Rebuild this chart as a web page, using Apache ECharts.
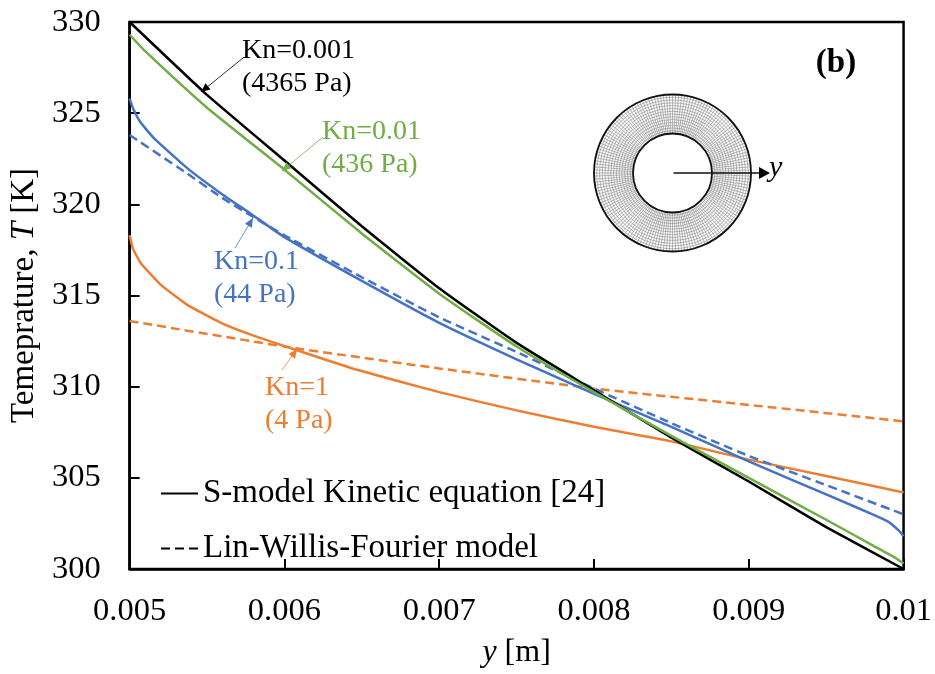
<!DOCTYPE html>
<html><head><meta charset="utf-8">
<style>html,body{margin:0;padding:0;background:#fff}#c{width:935px;height:674px}</style>
<script src="https://cdn.jsdelivr.net/npm/echarts@6/dist/echarts.min.js"></script>
</head><body><div id="c"></div>
<script>
const xKn001 = [0.005,0.0055,0.006,0.0065,0.007,0.0075,0.008,0.0085,0.009,0.0095,0.01];
const tKn001 = [330,326.0,322.4,318.8,315.4,312.4,309.8,307.2,304.8,302.3,300];
const xKn01 = [0.005,0.0051,0.0055,0.006,0.0065,0.007,0.0075,0.008,0.0085,0.009,0.0095,0.0098,0.00995,0.01];
const tKn01 = [329.3,328.4,325.3,321.9,318.4,315.1,312.2,309.7,307.3,305.0,302.7,301.3,300.6,300.3];
const xKn1s = [0.005,0.00502,0.00507,0.00516,0.00537,0.00559,0.00578,0.006,0.0065,0.007,0.0075,0.008,0.0085,0.009,0.00958,0.0098,0.0099,0.00997,0.01];
const tKn1s = [325.8,325.3,324.5,323.6,322.0,320.6,319.5,318.2,315.8,313.5,311.5,309.6,307.8,305.9,303.8,303.0,302.6,302.1,301.8];
const xKn1d = [0.005,0.00537,0.00559,0.00578,0.006,0.0065,0.007,0.0075,0.008,0.0085,0.009,0.0095,0.01];
const tKn1d = [323.8,321.7,320.4,319.4,318.3,316.0,313.8,311.9,309.9,308.0,306.2,304.6,303.0];
const xK1s = [0.005,0.00502,0.00507,0.0052,0.00537,0.00559,0.0058,0.00608,0.00644,0.007,0.0075,0.008,0.0085,0.009,0.0095,0.01];
const tK1s = [318.3,317.6,316.8,315.6,314.5,313.5,312.8,312.0,311.0,309.7,308.7,307.8,307.0,306.0,305.1,304.2];
const xK1d = [0.005,0.006,0.007,0.008,0.009,0.01];
const tK1d = [313.6,312.2,311.0,309.9,309.0,308.1];
const legendNames = ['S-model Kinetic equation [24]','Lin-Willis-Fourier model'];
const BLACK='#000000',GREEN='#70ad47',BLUE='#4472c4',ORANGE='#ed7d31';
const F='"Liberation Serif","Times New Roman",serif';
const zip=(a,b)=>a.map((v,i)=>[v,b[i]]);
const curve=(name,xs,ts,color,dashed)=>({name,type:'line',xAxisIndex:0,yAxisIndex:0,data:zip(xs,ts),smooth:0.15,showSymbol:false,symbol:'none',
  lineStyle:{color,width:2.5,type:dashed?[9,5]:'solid'},itemStyle:{color},silent:true});
const legendSeries=(name,dashed)=>({name,type:'line',xAxisIndex:0,yAxisIndex:0,data:[],symbol:'none',
  lineStyle:{color:'#000',width:1.6,type:dashed?[9,5]:'solid'},itemStyle:{color:'#000'}});
const label=(x,y,lines,color)=>lines.map((t,i)=>({type:'text',z:50,style:{x,y:y+i*33,text:t,fill:color,font:`28px ${F}`,textVerticalAlign:'middle'}}));
const arrow=(x1,y1,x2,y2,color)=>{const a=Math.atan2(y2-y1,x2-x1),s=9,w=4;return [
  {type:'line',z:50,shape:{x1,y1,x2,y2},style:{stroke:color,lineWidth:0.8}},
  {type:'polygon',z:50,shape:{points:[[x2,y2],[x2-s*Math.cos(a)+w*Math.sin(a),y2-s*Math.sin(a)-w*Math.cos(a)],[x2-s*Math.cos(a)-w*Math.sin(a),y2-s*Math.sin(a)+w*Math.cos(a)]]},style:{fill:color}}];};
const CX=672.5,CY=173,R0=39.5,R1=78.5;
const chart=echarts.init(document.getElementById('c'),null,{renderer:'canvas'});
const richX={i:{fontFamily:F,fontStyle:'italic',fontSize:32,color:'#000'},n:{fontFamily:F,fontSize:32,color:'#000'}};
const richY={i:{fontFamily:F,fontStyle:'italic',fontSize:33,color:'#000'},n:{fontFamily:F,fontSize:33,color:'#000'}};
chart.setOption({
  animation:false,backgroundColor:'#fff',
  grid:{left:128,top:22,width:777,height:548,show:true,borderColor:'#000',borderWidth:2.5,backgroundColor:'transparent'},
  xAxis:{type:'value',min:0.005,max:0.01,interval:0.001,
    axisLine:{show:true,lineStyle:{color:'#000',width:2.5}},axisTick:{show:true,inside:true,length:10,lineStyle:{color:'#000',width:2}},
    splitLine:{show:false},axisLabel:{color:'#000',fontFamily:F,fontSize:32.5,margin:26,showMinLabel:true,showMaxLabel:true,hideOverlap:false},
    name:'{i|y}{n| [m]}',nameLocation:'middle',nameGap:68,nameTextStyle:{rich:richX}},
  yAxis:{type:'value',min:300,max:330,interval:5,
    axisLine:{show:true,lineStyle:{color:'#000',width:2.5}},axisTick:{show:true,inside:true,length:10,lineStyle:{color:'#000',width:2}},
    splitLine:{show:false},axisLabel:{color:'#000',fontFamily:F,fontSize:32.5,margin:29},
    name:'{n|Temeprature, }{i|T}{n| [K]}',nameLocation:'middle',nameGap:78,nameRotate:90,nameTextStyle:{rich:richY}},
  polar:{center:[CX,CY],radius:[R0,R1]},
  angleAxis:{type:'value',min:0,max:160,interval:1,startAngle:90,axisLine:{show:false},axisTick:{show:false},axisLabel:{show:false},splitLine:{show:true,lineStyle:{color:'#888',width:0.6}}},
  radiusAxis:{type:'value',min:0,max:14,interval:1,axisLine:{show:false},axisTick:{show:false},axisLabel:{show:false},splitLine:{show:true,lineStyle:{color:'#888',width:0.6}}},
  legend:{show:true,orient:'vertical',left:160,top:477,padding:0,itemWidth:37,itemHeight:0.01,itemGap:22,data:legendNames,selectedMode:false,
    textStyle:{fontFamily:F,fontSize:33,color:'#000'}},
  series:[
    curve('Kn=1 Fourier',xK1d,tK1d,ORANGE,true),
    curve('Kn=1',xK1s,tK1s,ORANGE,false),
    curve('Kn=0.1 Fourier',xKn1d,tKn1d,BLUE,true),
    curve('Kn=0.1',xKn1s,tKn1s,BLUE,false),
    curve('Kn=0.001',xKn001,tKn001,BLACK,false),
    curve('Kn=0.01',xKn01,tKn01,GREEN,false),
    legendSeries(legendNames[0],false),
    legendSeries(legendNames[1],true),
    {type:'line',coordinateSystem:'polar',data:[],symbol:'none',silent:true}
  ],
  graphic:[
    ...label(242,51,['Kn=0.001','(4365 Pa)'],'#000'),
    ...label(322,132,['Kn=0.01','(436 Pa)'],GREEN),
    ...label(214,262,['Kn=0.1','(44 Pa)'],BLUE),
    ...label(265,388,['Kn=1','(4 Pa)'],ORANGE),
    ...arrow(243,58,201,92,'#000'),
    ...arrow(323,137,282,171,GREEN),
    ...arrow(235,248,253,218,BLUE),
    ...arrow(282,370,297,349,ORANGE),
    {type:'text',z:60,style:{x:836,y:63,text:'(b)',fill:'#000',font:`bold 33px ${F}`,textAlign:'center',textVerticalAlign:'middle'}},
    {type:'circle',z:55,shape:{cx:CX,cy:CY,r:R1},style:{fill:'none',stroke:'#111',lineWidth:1.8}},
    {type:'circle',z:55,shape:{cx:CX,cy:CY,r:R0},style:{fill:'#fff',stroke:'#111',lineWidth:1.8}},
    {type:'line',z:56,shape:{x1:CX+1,y1:CY,x2:760,y2:CY},style:{stroke:'#111',lineWidth:1.6}},
    {type:'polygon',z:56,shape:{points:[[770,CY],[759,CY-6],[759,CY+6]]},style:{fill:'#000'}},
    {type:'text',z:56,style:{x:769,y:168,text:'y',fill:'#000',font:`italic 30px ${F}`,textVerticalAlign:'middle'}}
  ]
});
</script></body></html>
